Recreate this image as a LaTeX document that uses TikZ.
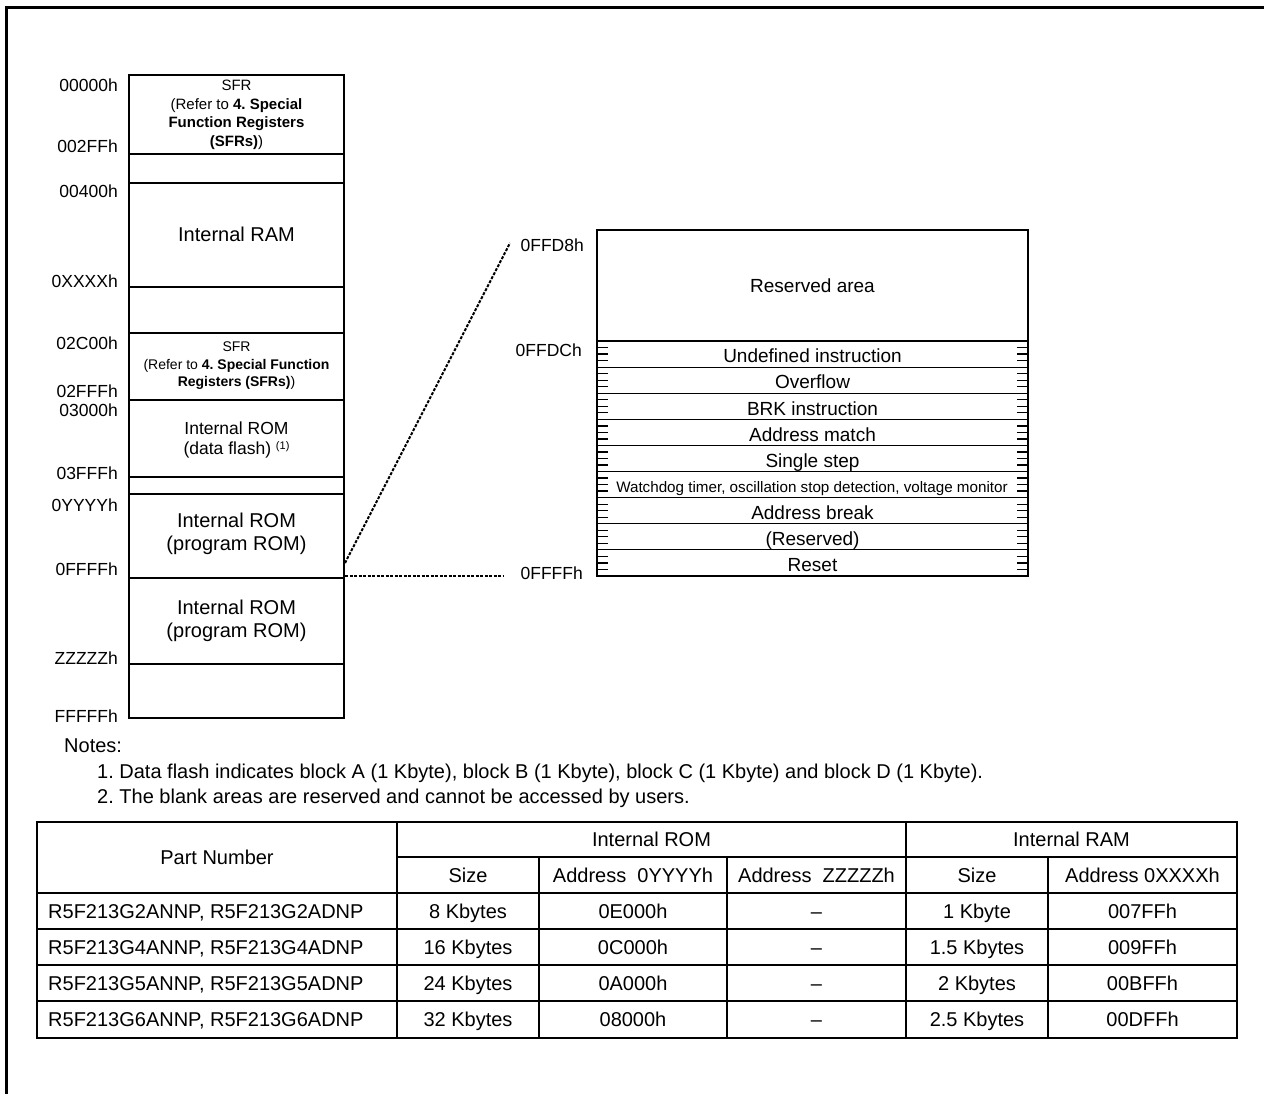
\documentclass[tikz,border=0pt]{standalone}
\usepackage{fontspec}
\setmainfont{Liberation Sans}
\usetikzlibrary{positioning}

\begin{document}
\frenchspacing
\begin{tikzpicture}[x=1pt,y=-1pt,
    cell/.style={line width=1.3pt},
    vtick/.style={line width=1.3pt},
    zoomline/.style={line width=2pt,dash pattern=on 3pt off 1.5pt},
    addr/.style={anchor=east,inner sep=0pt,text height=12.5pt,text depth=0pt,font=\fontsize{17.5}{20}\selectfont},
    big/.style={align=center,inner sep=0pt,font=\fontsize{20}{23.3}\selectfont},
    sfr/.style={align=center,inner sep=0pt,font=\fontsize{15}{18.6}\selectfont},
    vec/.style={inner sep=0pt,text height=13.6pt,text depth=0pt,font=\fontsize{19}{22}\selectfont},
    txt/.style={inner sep=0pt,text height=14.3pt,text depth=0pt,font=\fontsize{20}{24}\selectfont}]
\useasboundingbox (0,0) rectangle (1264,1094);
\pgfmathsetmacro{\RowH}{26.11}
% frame
\draw[line width=3pt] (6,1094) -- (6,8) -- (1264,8);

% LEFT: memory map
\draw[cell] (129,75) rectangle (344,718);
\foreach \y in {154,183,287,333,400,477,494,578,664}
  \draw[cell] (129,\y) -- (344,\y);
\node[sfr] (sfrA) at (236.5,115) {SFR\\(Refer to \textbf{4. Special}\\\textbf{Function Registers}\\\textbf{(SFRs)})};
\node[big] (ram) at (236.5,234.5) {Internal RAM};
\node[sfr,font=\fontsize{14}{17.5}\selectfont] (sfrB) at (236.5,366) {SFR\\(Refer to \textbf{4. Special Function}\\\textbf{Registers (SFRs)})};
\node[big,font=\fontsize{17.5}{20}\selectfont] (flash) at (236.5,440) {Internal ROM\\(data flash) \raisebox{5pt}{\fontsize{11}{11}\selectfont(1)}};
\node[big] (progA) at (236.5,534) {Internal ROM\\(program ROM)};
\node[big] (progB) at (236.5,620.5) {Internal ROM\\(program ROM)};
\foreach \a/\y in {00000h/85,002FFh/146.7,00400h/191.7,0XXXXh/281.7,02C00h/343.3,02FFFh/391.7,03000h/410,03FFFh/473.3,0YYYYh/505,0FFFFh/569.3,ZZZZZh/658.3,FFFFFh/716}
  \node[addr] (m\a) at (118,\y) {\a};

% RIGHT: vector table
\draw[cell] (597,230) rectangle (1028,576);
\draw[cell] (597,341) -- (1028,341);
\foreach \i in {1,...,8}
  \draw[line width=1.1pt] (597,341+\i*\RowH) -- (1028,341+\i*\RowH);
\foreach \i in {0,...,8}
  \foreach \k in {1,2,3}{
    \draw[vtick] (597,341+\i*\RowH+\k*\RowH/4) -- ++(11,0);
    \draw[vtick] (1028,341+\i*\RowH+\k*\RowH/4) -- ++(-11,0);
  }
\node[vec] (resv) at (812.5,285.5) {Reserved area};
\foreach \i/\t in {0/Undefined instruction,1/Overflow,2/BRK instruction,3/Address match,4/Single step,6/Address break,7/(Reserved),8/Reset}
  \node[vec] (v\i) at (812.5,343+\i*\RowH+\RowH/2) {\t};
\node[vec,text height=10.9pt,font=\fontsize{15.2}{18}\selectfont] (v5) at (812,343+5*\RowH+\RowH/2) {Watchdog timer, oscillation stop detection, voltage monitor};
\node[addr] (tD8) at (584,245) {0FFD8h};
\node[addr] (tDC) at (582,350) {0FFDCh};
\node[addr] (tFF) at (583,573) {0FFFFh};

% zoom lines
\coordinate (zs) at (345,563);
\coordinate (ze) at (510,243);
\coordinate (zb) at (345,576);
\coordinate (zbe) at (504,576);
\draw[zoomline] (zs) -- (ze);
\draw[zoomline] (zb) -- (zbe);

% notes
\node[txt,anchor=west] (notes) at (64,745) {Notes:};
\node[txt,anchor=west] (note1) at (97,771) {1. Data flash indicates block A (1 Kbyte), block B (1 Kbyte), block C (1 Kbyte) and block D (1 Kbyte).};
\node[txt,anchor=west] (note2) at (97,796) {2. The blank areas are reserved and cannot be accessed by users.};

% table
\draw[line width=2.4pt] (37,822) rectangle (1237,1038);
\draw[line width=1.1pt] (397,857) -- (1237,857);
\foreach \y in {893,929,965,1001}
  \draw[line width=1.1pt] (37,\y) -- (1237,\y);
\foreach \x in {397,906}
  \draw[line width=1.1pt] (\x,822) -- (\x,1038);
\foreach \x in {539,727,1048}
  \draw[line width=1.1pt] (\x,857) -- (\x,1038);
\node[txt] (hPart) at (217,857) {Part Number};
\node[txt] (hRom) at (651.5,839.5) {Internal ROM};
\node[txt] (hRam) at (1071.5,839.5) {Internal RAM};
\node[txt] (hRomSz) at (468,875) {Size};
\node[txt] (hRomY) at (633,875) {Address\ \ 0YYYYh};
\node[txt] (hRomZ) at (816.5,875) {Address\ \ ZZZZZh};
\node[txt] (hRamSz) at (977,875) {Size};
\node[txt] (hRamX) at (1142.5,875) {Address 0XXXXh};
\foreach \y/\g/\rs/\ya/\ms/\xa in {911/G2/8 Kbytes/0E000h/1 Kbyte/007FFh,947/G4/16 Kbytes/0C000h/1.5 Kbytes/009FFh,983/G5/24 Kbytes/0A000h/2 Kbytes/00BFFh,1019.5/G6/32 Kbytes/08000h/2.5 Kbytes/00DFFh}{
  \node[txt,anchor=west] (p\g) at (48,\y) {R5F213\g ANNP, R5F213\g ADNP};
  \node[txt] (rs\g) at (468,\y) {\rs};
  \node[txt] (ya\g) at (633,\y) {\ya};
  \node[txt] (za\g) at (816.5,\y) {--};
  \node[txt] (ms\g) at (977,\y) {\ms};
  \node[txt] (xa\g) at (1142.5,\y) {\xa};
}
\end{tikzpicture}
\end{document}
